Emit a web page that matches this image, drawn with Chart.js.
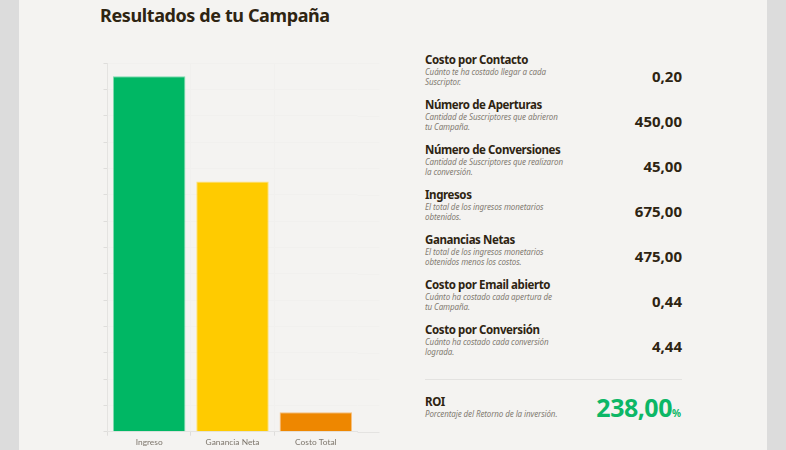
<!DOCTYPE html>
<html>
<head>
<meta charset="utf-8">
<script src="https://cdn.jsdelivr.net/npm/chart.js@4"></script>
<style>
  html, body { margin: 0; padding: 0; background: #dcdcdc; overflow: hidden; }
  #panel { position: absolute; left: 19px; top: 0; width: 748px; height: 450px; background: #f4f3f1; }
  #wrap { position: absolute; left: 90px; top: 40px; width: 300px; height: 410px; }
  h1 { position: absolute; left: 100px; top: 3px; margin: 0; font: bold 18px "Noto Sans"; letter-spacing: -0.39px; color: #2e2412; white-space: nowrap; }
  .row { position: absolute; left: 425px; width: 257px; height: 45px; }
  .name { position: absolute; left: 0; top: 0; font: bold 11.5px "Noto Sans"; letter-spacing: -0.4px; color: #2e2412; white-space: nowrap; }
  .desc { position: absolute; left: 0; top: 15px; width: 170px; font: italic 8px/10px "Noto Sans"; letter-spacing: -0.1px; color: #837c72; white-space: pre-line; }
  .val { position: absolute; right: 0; top: 14px; font: bold 15px "Noto Sans"; color: #2e2412; }
  #rule { position: absolute; left: 425px; top: 379px; width: 257px; height: 1px; background: #e3e2e0; }
  #roi { position: absolute; right: 1px; top: -4px; font: bold 25px "Noto Sans"; letter-spacing: -0.5px; color: #0cb766; white-space: nowrap; }
  #roi span { font-size: 10px; letter-spacing: 0; }
</style>
</head>
<body>
<div id="panel"></div>
<h1>Resultados de tu Campaña</h1>
<div id="wrap"><canvas id="myChart"></canvas></div>
<div id="rows"></div>
<div id="rule"></div>
<script>
const labels = ["Ingreso", "Ganancia Neta", "Costo Total"];
const values = [675, 475, 37];
const barColors = ["#00b764", "#ffcb00", "#ee8700"];
const barBorders = ["#7fdcb0", "#ffe27a", "#f7c07f"];
const yMax = 700;
const yStep = 50;

const names = ["Costo por Contacto", "Número de Aperturas", "Número de Conversiones", "Ingresos", "Ganancias Netas", "Costo por Email abierto", "Costo por Conversión"];
const descs = [
  "Cuánto te ha costado llegar a cada\nSuscriptor.",
  "Cantidad de Suscriptores que abrieron\ntu Campaña.",
  "Cantidad de Suscriptores que realizaron\nla conversión.",
  "El total de los ingresos monetarios\nobtenidos.",
  "El total de los ingresos monetarios\nobtenidos menos los costos.",
  "Cuánto ha costado cada apertura de\ntu Campaña.",
  "Cuánto ha costado cada conversión\nlograda."
];
const results = ["0,20", "450,00", "45,00", "675,00", "475,00", "0,44", "4,44"];
const rowTops = [52, 97, 142, 187, 232, 277, 322];

const rows = document.getElementById("rows");
names.forEach((n, i) => {
  const r = document.createElement("div");
  r.className = "row";
  r.style.top = rowTops[i] + "px";
  r.innerHTML = `<div class="name">${n}</div><div class="desc">${descs[i]}</div><div class="val">${results[i]}</div>`;
  rows.appendChild(r);
});
const roi = document.createElement("div");
roi.className = "row";
roi.style.top = "394px";
roi.innerHTML = `<div class="name">ROI</div><div class="desc">Porcentaje del Retorno de la inversión.</div><div id="roi">238,00<span>%</span></div>`;
rows.appendChild(roi);

// the original axes run on past the last category, chart area alone can't do that
const extendLines = {
  id: "extendLines",
  beforeDatasetsDraw(chart) {
    const { ctx, chartArea, scales } = chart;
    ctx.save();
    ctx.lineWidth = 1;
    for (let v = 0; v <= yMax; v += yStep) {
      const y = Math.round(scales.y.getPixelForValue(v)) + 0.5;
      ctx.strokeStyle = v === 0 ? "#e4e3e1" : "#f1f0ee";
      ctx.beginPath();
      ctx.moveTo(chartArea.right, y);
      ctx.lineTo(chartArea.right + 22, y);
      ctx.stroke();
    }
    ctx.restore();
  }
};

// with offset grid the closing line has no tick in its context
const isLast = (c) => c.tick === undefined;

const ctx = document.getElementById("myChart").getContext("2d");
const myChart = new Chart(ctx, {
  type: "bar",
  data: {
    labels,
    datasets: [{
      data: values,
      backgroundColor: barColors,
      borderColor: barBorders,
      borderWidth: 1,
      barPercentage: 0.87,
      categoryPercentage: 1
    }]
  },
  plugins: [extendLines],
  options: {
    responsive: true,
    maintainAspectRatio: false,
    animation: false,
    layout: { padding: { top: 23, right: 32.5, left: 0, bottom: 0 } },
    plugins: { legend: { display: false }, tooltip: { enabled: false } },
    scales: {
      x: {
        afterFit(s) { s.height = 18.3; },
        grid: {
          color: (c) => isLast(c) ? "transparent" : "#f1f0ee",
          tickColor: (c) => isLast(c) ? "transparent" : "#dedddb",
          tickLength: 4,
          offset: true
        },
        border: { color: "#e4e3e1" },
        ticks: { color: "#7d766c", padding: 2, maxRotation: 0, font: { family: "Lato", size: 8.4 } }
      },
      y: {
        min: 0,
        max: yMax,
        afterFit(s) { s.width = 17.5; },
        grid: { color: "#f1f0ee", tickColor: "#dedddb", tickLength: 4 },
        border: { color: "#e4e3e1" },
        ticks: { stepSize: yStep, display: false }
      }
    }
  }
});
</script>
</body>
</html>
